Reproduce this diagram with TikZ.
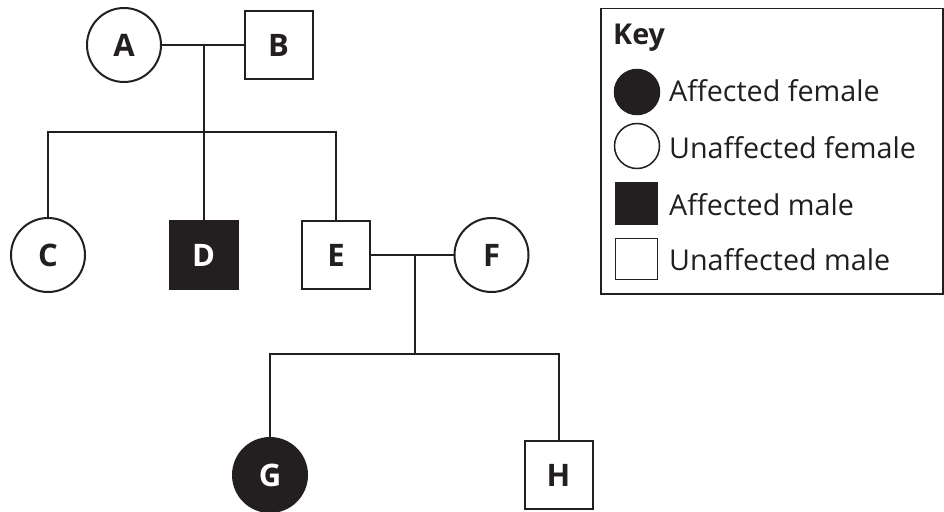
\documentclass[tikz,border=0pt]{standalone}
\usepackage{fontspec}
\setmainfont{Open Sans}
\definecolor{ink}{HTML}{231F20}
\tikzset{
  line/.style={draw=ink, line width=2pt},
  fem/.style={circle, draw=ink, line width=2pt, minimum size=74pt, inner sep=0pt, font=\fontsize{31}{32}\selectfont\bfseries, text=ink},
  mal/.style={rectangle, draw=ink, line width=2pt, minimum size=68pt, inner sep=0pt, font=\fontsize{31}{32}\selectfont\bfseries, text=ink},
  aff/.style={fill=ink, text=white},
  keytxt/.style={anchor=base west, inner sep=0pt, font=\fontsize{28.7}{30}\selectfont, text=ink},
  keyfem/.style={circle, draw=ink, line width=1.5pt, minimum size=45pt, inner sep=0pt},
  keymal/.style={rectangle, draw=ink, line width=1.5pt, minimum width=42pt, minimum height=41pt, inner sep=0pt}
}
\begin{document}
\begin{tikzpicture}[x=1pt,y=-1pt]
\useasboundingbox (0,0) rectangle (944,511);
% generation I
\node[fem] (A) at (124,45) {A};
\node[mal] (B) at (278.5,45) {B};
% generation II
\node[fem] (C) at (48,255) {C};
\node[mal,aff] (D) at (203.5,255) {D};
\node[mal] (E) at (336,255) {E};
\node[fem] (F) at (491.5,255) {F};
% generation III
\node[fem,aff] (G) at (270,475) {G};
\node[mal] (H) at (558.5,475) {H};
% helper coordinates
\coordinate (m1) at (203.5,45);
\coordinate (s1) at (203.5,132);
\coordinate (s1l) at (48,132);
\coordinate (s1r) at (336,132);
\coordinate (m2) at (415,255);
\coordinate (s2) at (415,354);
\coordinate (s2l) at (270,354);
\coordinate (s2r) at (558.5,354);
% connectors
\draw[line] (A.east) -- (B.west);
\draw[line] (m1) -- (s1);
\draw[line] (C.north) -- (s1l) -- (s1r) -- (E.north);
\draw[line] (s1) -- (D.north);
\draw[line] (E.east) -- (F.west);
\draw[line] (m2) -- (s2);
\draw[line] (G.north) -- (s2l) -- (s2r) -- (H.north);
% key
\node[draw=ink, line width=1.5pt, minimum width=342pt, minimum height=285pt, inner sep=0pt, anchor=north west] (keybox) at (600,8) {};
\node[keytxt, font=\fontsize{28.7}{30}\selectfont\bfseries] (keyt) at (613,45) {Key};
\node[keyfem, fill=ink] (k1) at (637,92) {};
\node[keytxt] (k1t) at (669,101) {Affected female};
\node[keyfem] (k2) at (637,146) {};
\node[keytxt] (k2t) at (669,158) {Unaffected female};
\node[keymal, fill=ink] (k3) at (636.5,203.5) {};
\node[keytxt] (k3t) at (669,215) {Affected male};
\node[keymal] (k4) at (636.5,259) {};
\node[keytxt] (k4t) at (669,270) {Unaffected male};
\end{tikzpicture}
\end{document}
